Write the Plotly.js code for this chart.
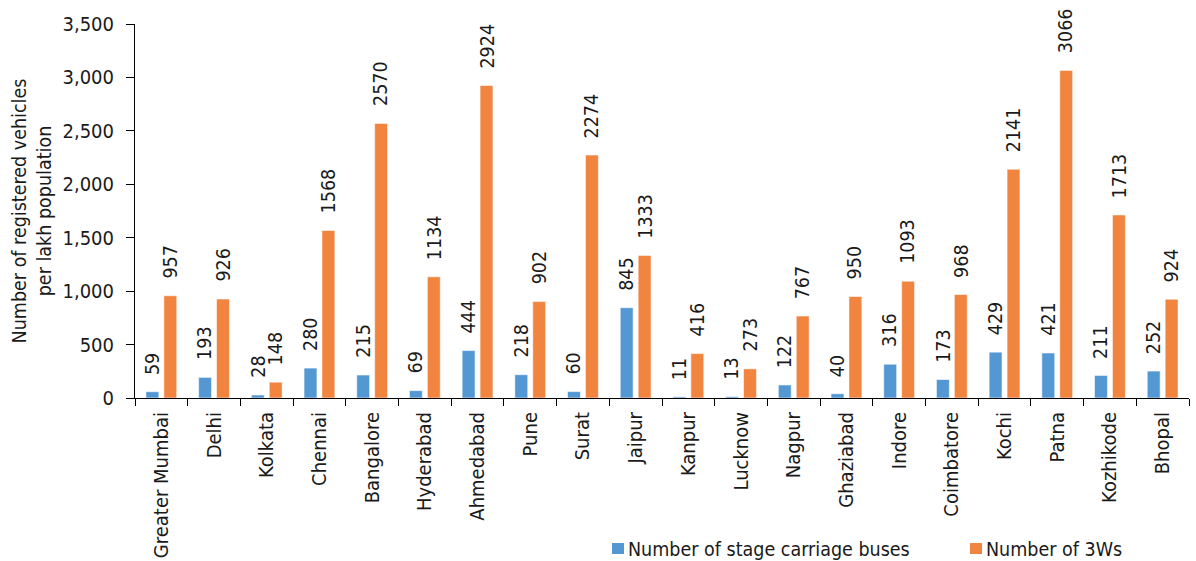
<!DOCTYPE html>
<html>
<head>
<meta charset="utf-8">
<script src="https://cdn.plot.ly/plotly-3.0.1.min.js"></script>
<style>html,body{margin:0;padding:0;background:#fff;}#chart{width:1196px;height:561px;}</style>
</head>
<body>
<div id="chart"></div>
<script>
const cities = ["Greater Mumbai","Delhi","Kolkata","Chennai","Bangalore","Hyderabad","Ahmedabad","Pune","Surat","Jaipur","Kanpur","Lucknow","Nagpur","Ghaziabad","Indore","Coimbatore","Kochi","Patna","Kozhikode","Bhopal"];
const buses = [59,193,28,280,215,69,444,218,60,845,11,13,122,40,316,173,429,421,211,252];
const threeWheelers = [957,926,148,1568,2570,1134,2924,902,2274,1333,416,273,767,950,1093,968,2141,3066,1713,924];
const seriesNames = ["Number of stage carriage buses","Number of 3Ws"];
const yTicks = [0,500,1000,1500,2000,2500,3000,3500];

const FONT = "DejaVu Sans Condensed, DejaVu Sans, sans-serif";
const colors = ["#5398d3","#f1843e"];

const W = 1196, H = 561;
const M = {l: 135, r: 7, t: 24, b: 163};
const PW = W - M.l - M.r, PH = H - M.t - M.b;
const px = x => (x - M.l) / PW;
const py = y => (H - M.b - y) / PH;

const traces = [buses, threeWheelers].map((vals, s) => ({
  type: "bar",
  name: seriesNames[s],
  x: cities,
  y: vals,
  showlegend: false,
  marker: {color: colors[s], line: {color: "rgba(255,255,255,0.55)", width: 1}},
  hoverinfo: "x+y"
}));

const annotations = [];
[buses, threeWheelers].forEach((vals, s) => {
  vals.forEach((v, i) => {
    annotations.push({
      x: cities[i], y: v, xref: "x", yref: "y",
      text: String(v), showarrow: false, textangle: -90,
      xanchor: "center", yanchor: "bottom",
      xshift: s === 0 ? -9 : 9, yshift: 15,
      font: {family: FONT, size: 19.5, color: "#1a1a1a"}
    });
  });
});

// legend (drawn as shapes + text so it sits exactly like the original)
const legendSymbolX = [612, 970];
const shapes = [];
seriesNames.forEach((name, s) => {
  const x0 = legendSymbolX[s];
  shapes.push({type: "rect", xref: "paper", yref: "paper",
    x0: px(x0), x1: px(x0 + 12), y0: py(554), y1: py(543),
    fillcolor: colors[s], line: {width: 0}});
  annotations.push({xref: "paper", yref: "paper", x: px(x0 + 14), y: py(549),
    xanchor: "left", yanchor: "middle", showarrow: false, text: name,
    font: {family: FONT, size: 19.5, color: "#1a1a1a"}});
});

const layout = {
  width: W, height: H,
  margin: M,
  paper_bgcolor: "#fff", plot_bgcolor: "#fff",
  barmode: "group", bargap: 0.32, bargroupgap: 0.28,
  font: {family: FONT, size: 19.5, color: "#1a1a1a"},
  xaxis: {
    type: "category", tickangle: -90, tickson: "boundaries",
    ticks: "outside", ticklen: 7, tickcolor: "#000", tickwidth: 1,
    showline: true, linecolor: "#000", linewidth: 1,
    showgrid: false, zeroline: false, automargin: false,
    ticklabelstandoff: 5,
    tickfont: {family: FONT, size: 20, color: "#1a1a1a"}
  },
  yaxis: {
    range: [0, 3500], tickvals: yTicks, tickformat: ",",
    ticks: "outside", ticklen: 8, tickcolor: "#000", tickwidth: 1,
    showline: true, linecolor: "#000", linewidth: 1,
    showgrid: false, zeroline: false, automargin: false,
    ticklabelstandoff: 8,
    tickfont: {family: FONT, size: 20, color: "#1a1a1a"},
    title: {text: "Number of registered vehicles<br>per lakh population", standoff: 5,
            font: {family: FONT, size: 19.5, color: "#1a1a1a"}}
  },
  showlegend: false,
  shapes: shapes,
  annotations: annotations
};

Plotly.newPlot("chart", traces, layout, {displayModeBar: false, staticPlot: true});
</script>
</body>
</html>
